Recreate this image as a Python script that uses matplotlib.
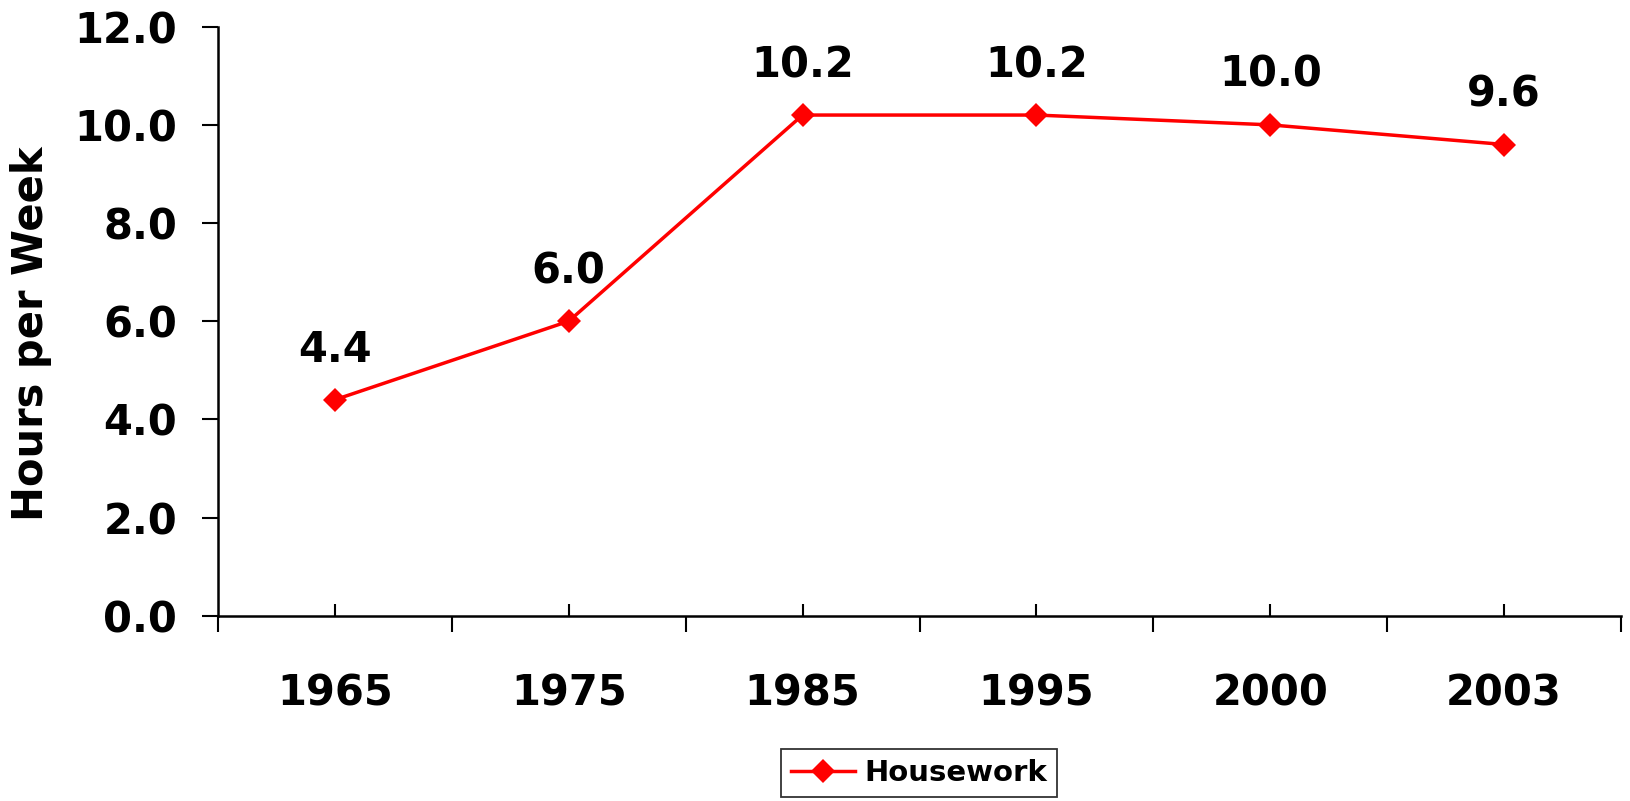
import matplotlib.pyplot as plt
import matplotlib
from matplotlib.ticker import FixedLocator, NullFormatter

matplotlib.rcParams.update({'font.family': 'DejaVu Sans', 'font.weight': 'bold'})

years = ["1965", "1975", "1985", "1995", "2000", "2003"]
hours = [4.4, 6.0, 10.2, 10.2, 10.0, 9.6]
series_name = "Housework"

fig = plt.figure(figsize=(16.30, 8.01), dpi=100)
ax = fig.add_axes([218 / 1630, 1 - 615.7 / 801, (1621 - 218) / 1630, 589 / 801])

x = [i + 0.5 for i in range(len(years))]
ax.plot(x, hours, color="#ff0000", lw=2.5, marker="D", markersize=12,
        markeredgewidth=0, label=series_name)

for xi, v in zip(x, hours):
    ax.annotate("%.1f" % v, (xi, v), xytext=(0, 36), textcoords="offset points",
                ha="center", va="center", fontsize=30, fontweight="bold")

ax.set_xlim(0, len(years))
ax.set_ylim(0, 12)
ax.set_yticks([0, 2, 4, 6, 8, 10, 12])
ax.set_yticklabels(["%.1f" % t for t in [0, 2, 4, 6, 8, 10, 12]], fontsize=30, fontweight="bold")

# category boundaries: outward ticks, centres: inward ticks with labels
ax.xaxis.set_major_locator(FixedLocator(range(len(years) + 1)))
ax.xaxis.set_major_formatter(NullFormatter())
ax.xaxis.set_minor_locator(FixedLocator(x))
ax.set_xticklabels(years, minor=True, fontsize=30, fontweight="bold")
ax.tick_params(axis="x", which="major", direction="out", length=11.5, width=1.5)
ax.tick_params(axis="x", which="minor", direction="in", length=8.5, width=1.5, pad=41)
ax.tick_params(axis="y", direction="out", length=11.5, width=1.5, pad=18)

for s in ["top", "right"]:
    ax.spines[s].set_visible(False)
for s in ["left", "bottom"]:
    ax.spines[s].set_linewidth(1.8)

fig.text(31 / 1630, 1 - 334 / 801, "Hours per Week", rotation=90, ha="center", va="center",
         fontsize=30, fontweight="bold")

leg = fig.legend(loc="upper left", bbox_to_anchor=(781 / 1630, 1 - 749 / 801), borderaxespad=0,
                 fancybox=False, edgecolor="black", handlelength=2.2,
                 handletextpad=0.3, borderpad=0.35, prop={'weight': 'bold', 'size': 21})
leg.get_frame().set_linewidth(1.3)

fig.savefig("out.png", dpi=100)
